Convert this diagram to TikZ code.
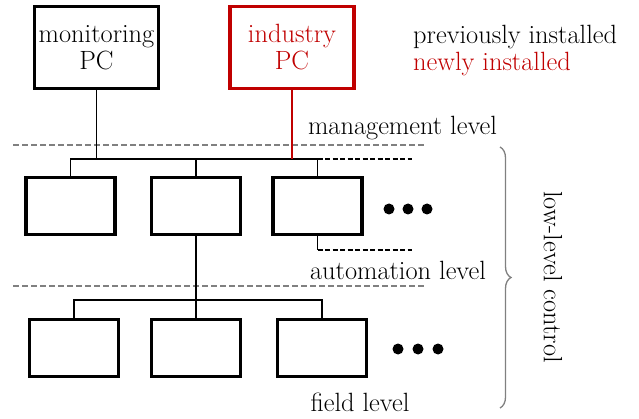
\documentclass[tikz,border=0pt]{standalone}
\usetikzlibrary{decorations.pathreplacing}
\definecolor{newred}{RGB}{192,0,0}
\definecolor{sepgray}{RGB}{128,128,128}
\begin{document}
\begin{tikzpicture}[x=1pt,y=-1pt,
  txt/.style={font=\fontsize{26.4}{27}\selectfont, inner sep=0pt},
  pcbox/.style={draw=black, line width=3.5pt, minimum width=124pt, minimum height=82pt, align=center, font=\fontsize{26.4}{27}\selectfont, inner sep=0pt},
  devbox/.style={draw=black, line width=3.5pt, minimum width=89pt, minimum height=57pt, inner sep=0pt},
  wire/.style={line width=1.8pt},
  sep/.style={draw=sepgray, line width=1.3pt, dash pattern=on 6pt off 3pt},
  stub/.style={line width=1.8pt, dash pattern=on 5pt off 2.5pt},
  dot/.style={circle, fill=black, inner sep=0pt, minimum size=11pt}
]
\useasboundingbox (0,0) rectangle (639,419);

% top level PCs
\node[pcbox] (mon) at (96.5,47.5) {monitoring\\PC};
\node[pcbox, draw=newred, text=newred] (ind) at (292,47.5) {industry\\PC};

% legend
\node[txt, anchor=west] (leg1) at (413,37) {previously installed};
\node[txt, anchor=west, text=newred] (leg2) at (413,64) {newly installed};

% separators and level labels
\coordinate (s1L) at (13,145); \coordinate (s1R) at (425,145);
\coordinate (s2L) at (13,286); \coordinate (s2R) at (425,286);
\draw[sep] (s1L) -- (s1R);
\draw[sep] (s2L) -- (s2R);
\node[txt] (mgmt) at (402.5,128) {management level};
\node[txt] (auto) at (398,270) {automation level};
\node[txt] (field) at (360,402) {field level};

% automation devices
\node[devbox] (a1) at (70.5,206) {};
\node[devbox] (a2) at (196,206) {};
\node[devbox] (a3) at (317.5,206) {};
\node[dot] (ad1) at (389,209) {};
\node[dot] (ad2) at (408,209) {};
\node[dot] (ad3) at (427,209) {};

% field devices
\node[devbox] (f1) at (74,348) {};
\node[devbox] (f2) at (196,348) {};
\node[devbox] (f3) at (322,348) {};
\node[dot] (fd1) at (398,349) {};
\node[dot] (fd2) at (418,349) {};
\node[dot] (fd3) at (438,349) {};

% management bus
\coordinate (bus) at (0,159);
\coordinate (busEnd) at (412,159);
\coordinate (lowEnd) at (412,250);
\draw[wire] (a1.north) -- (a1.north |- bus) -- (a3.north |- bus) -- (a3.north);
\draw[wire] (a2.north) -- (a2.north |- bus);
\draw[wire] (mon.south) -- (mon.south |- bus);
\draw[wire, newred] (ind.south) -- (ind.south |- bus);
\draw[stub] (a3.north |- bus) -- (busEnd);
\draw[wire] (a3.south) -- (a3.south |- lowEnd);
\draw[stub] (a3.south |- lowEnd) -- (lowEnd);

% field bus
\coordinate (fbus) at (0,300);
\draw[wire] (a2.south) -- (f2.north);
\draw[wire] (f1.north) -- (f1.north |- fbus) -- (f3.north |- fbus) -- (f3.north);

% brace
\coordinate (brT) at (500,147);
\coordinate (brB) at (500,408);
\draw[sepgray, line width=1.3pt, decorate, decoration={brace, amplitude=11pt}] (brT) -- (brB);
\node[txt, rotate=-90] (low) at (553,277) {low-level control};
\end{tikzpicture}
\end{document}
